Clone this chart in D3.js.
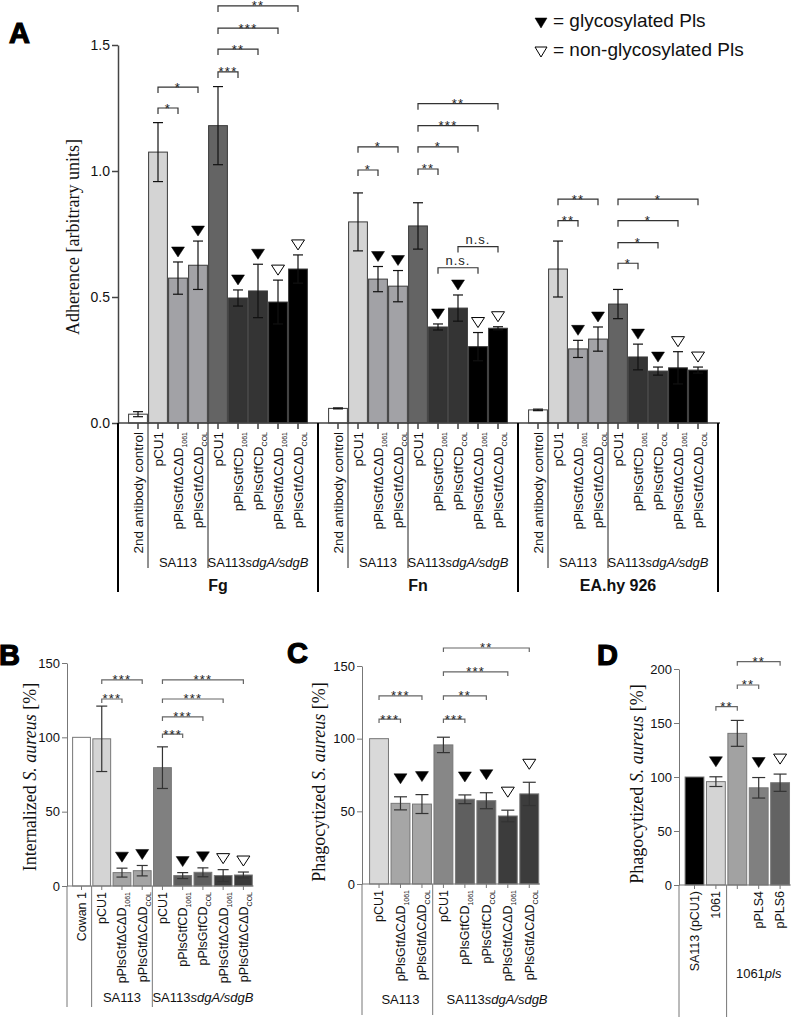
<!DOCTYPE html>
<html lang="en">
<head>
<meta charset="UTF-8">
<title>Pls glycosylation: adherence, internalization, phagocytosis</title>
<script src="https://d3js.org/d3.v7.min.js"></script>
<style>
  body { margin: 0; background: #fff; }
  svg { display: block; font-family: "Liberation Sans", Arial, sans-serif; }
  .ylab { font-family: "Liberation Serif", "Times New Roman", serif; font-size: 18px; }
  .letter { font-weight: bold; font-size: 29px; stroke: #000; stroke-width: 1.2px; }
</style>
</head>
<body>
<svg id="fig" width="792" height="1019"></svg>
<script>
// ---------- data ----------
// panel A: adherence to Fg, Fn and EA.hy 926 cells
const aNames = ["2nd antibody control", "pCU1", "pPlsGtfΔCΔD", "pPlsGtfΔCΔD", "pCU1", "pPlsGtfCD", "pPlsGtfCD", "pPlsGtfΔCΔD", "pPlsGtfΔCΔD"];
const aSubs = ["", "", "1061", "COL", "", "1061", "COL", "1061", "COL"];
const aMarks = ["", "", "g", "g", "", "g", "g", "n", "n"];
const aSubstrates = ["Fg", "Fn", "EA.hy 926"];
const fgMean = [0.035, 1.075, 0.575, 0.626, 1.18, 0.496, 0.524, 0.48, 0.611];
const fgErr  = [0.01, 0.117, 0.064, 0.096, 0.155, 0.032, 0.106, 0.087, 0.056];
const fnMean = [0.058, 0.798, 0.571, 0.543, 0.782, 0.381, 0.456, 0.303, 0.376];
const fnErr  = [0.002, 0.115, 0.05, 0.062, 0.092, 0.012, 0.052, 0.056, 0.006];
const eaMean = [0.052, 0.611, 0.294, 0.333, 0.472, 0.262, 0.206, 0.219, 0.21];
const eaErr  = [0.003, 0.111, 0.034, 0.048, 0.058, 0.051, 0.016, 0.064, 0.012];
// significance brackets: [from, to, height (data units), label]
const fgSig = [[1, 2, 1.25, "*"], [1, 3, 1.333, "*"], [4, 5, 1.393, "***"], [4, 6, 1.484, "**"], [4, 7, 1.567, "***"], [4, 8, 1.655, "**"]];
const fnSig = [[1, 2, 1.004, "*"], [1, 3, 1.096, "*"], [4, 5, 1.008, "**"], [4, 6, 1.096, "*"], [4, 7, 1.18, "***"], [4, 8, 1.267, "**"], [5, 7, 0.616, "n.s."], [6, 8, 0.7, "n.s."]];
const eaSig = [[1, 2, 0.803, "**"], [1, 3, 0.888, "**"], [4, 5, 0.634, "*"], [4, 6, 0.716, "*"], [4, 7, 0.803, "*"], [4, 8, 0.888, "*"]];

// panel B: internalization
const bNames = ["Cowan 1", "pCU1", "pPlsGtfΔCΔD", "pPlsGtfΔCΔD", "pCU1", "pPlsGtfCD", "pPlsGtfCD", "pPlsGtfΔCΔD", "pPlsGtfΔCΔD"];
const bSubs = ["", "", "1061", "COL", "", "1061", "COL", "1061", "COL"];
const bMarks = ["", "", "g", "g", "", "g", "g", "n", "n"];
const bMean = [100, 99, 9, 10.3, 79.6, 7, 9.2, 7, 7.4];
const bErr  = [0, 22, 3, 3.5, 14, 2, 3, 4, 2];
const bSig = [[1, 2, 125.8, "***"], [1, 3, 138.6, "***"], [4, 5, 102.2, "***"], [4, 6, 113.7, "***"], [4, 7, 125.8, "***"], [4, 8, 138.6, "***"]];

// panel C: phagocytosis
const cNames = ["pCU1", "pPlsGtfΔCΔD", "pPlsGtfΔCΔD", "pCU1", "pPlsGtfCD", "pPlsGtfCD", "pPlsGtfΔCΔD", "pPlsGtfΔCΔD"];
const cSubs = ["", "1061", "COL", "", "1061", "COL", "1061", "COL"];
const cMarks = ["", "g", "g", "", "g", "g", "n", "n"];
const cMean = [100, 55.5, 55, 95.7, 58.3, 57.3, 46.8, 62];
const cErr  = [0, 4.5, 6.5, 5.3, 3, 5.5, 4, 8];
const cSig = [[0, 1, 113.5, "***"], [0, 2, 129.4, "***"], [3, 4, 113.5, "***"], [3, 5, 129.4, "**"], [3, 6, 145.9, "***"], [3, 7, 162.4, "**"]];

// panel D: phagocytosis, 1061pls complemented
const dNames = ["SA113 (pCU1)", "1061", "", "pPLS4", "pPLS6"];
const dMarks = ["", "g", "", "g", "n"];
const dMean = [100, 95.7, 140.4, 90, 94.7];
const dErr  = [0, 4.5, 12, 9.5, 8];
const dSig = [[1, 2, 165.1, "**"], [2, 3, 185.2, "**"], [2, 4, 206.8, "**"]];

// ---------- drawing ----------
const svg = d3.select("#fig");

function panel(cfg) {
  const g = svg.append("g");
  const x = d3.scaleBand().domain(d3.range(cfg.n)).range(cfg.xr)
    .paddingInner(cfg.pad).paddingOuter(cfg.pad / 2);
  const y = d3.scaleLinear().domain(cfg.yd).range(cfg.yr);
  const cx = s => x(s) + x.bandwidth() / 2;
  const edge = s => x(s) - (x.step() - x.bandwidth()) / 2;
  const y0 = y(0);

  // bars
  g.selectAll("rect.bar").data(cfg.rows).join("rect")
    .attr("class", "bar")
    .attr("x", d => x(d.slot)).attr("width", x.bandwidth())
    .attr("y", d => y(d.mean)).attr("height", d => y0 - y(d.mean))
    .attr("fill", d => d.color).attr("stroke", cfg.barStroke).attr("stroke-width", 1);

  // error bars
  const eb = g.selectAll("g.err").data(cfg.rows.filter(d => d.err > 0)).join("g")
    .attr("stroke", cfg.errCol).attr("stroke-width", 1.2);
  eb.append("line").attr("x1", d => cx(d.slot)).attr("x2", d => cx(d.slot))
    .attr("y1", d => y(d.mean - d.err)).attr("y2", d => y(d.mean + d.err));
  eb.append("line").attr("x1", d => cx(d.slot) - cfg.cap / 2).attr("x2", d => cx(d.slot) + cfg.cap / 2)
    .attr("y1", d => y(d.mean + d.err)).attr("y2", d => y(d.mean + d.err));
  eb.append("line").attr("x1", d => cx(d.slot) - cfg.cap / 2).attr("x2", d => cx(d.slot) + cfg.cap / 2)
    .attr("y1", d => y(d.mean - d.err)).attr("y2", d => y(d.mean - d.err));

  // glycosylation triangles
  g.selectAll("path.tri").data(cfg.rows.filter(d => d.mark)).join("path")
    .attr("d", d => {
      const b = y(d.mean + d.err) - cfg.triGap, c = cx(d.slot);
      return `M${c - 6.5},${b - 10}H${c + 6.5}L${c},${b}Z`;
    })
    .attr("fill", d => d.mark === "g" ? "#000" : "#fff")
    .attr("stroke", "#000").attr("stroke-width", d => d.mark === "g" ? 0.5 : 1);

  // significance brackets
  cfg.sig.forEach(([a, b, v, lab]) => {
    const yy = y(v);
    g.append("path")
      .attr("d", `M${cx(a)},${yy + cfg.brTick}V${yy}H${cx(b)}V${yy + cfg.brTick}`)
      .attr("fill", "none").attr("stroke", cfg.brCol).attr("stroke-width", 1.2);
    const ns = lab === "n.s.";
    g.append("text").attr("x", (cx(a) + cx(b)) / 2).attr("y", ns ? yy - 3 : yy + 4.5)
      .attr("text-anchor", "middle").attr("font-size", 13)
      .attr("letter-spacing", ns ? 1 : 1.2).attr("fill", "#222").text(lab);
  });

  // y axis
  const ya = g.append("g").attr("transform", `translate(${cfg.ax},0)`)
    .call(d3.axisLeft(y).tickValues(cfg.yt).tickFormat(cfg.fmt).tickSize(cfg.yTick).tickSizeOuter(0).tickPadding(2));
  ya.attr("font-family", null).attr("font-size", cfg.tickFont);
  ya.selectAll(".domain, .tick line").attr("stroke", cfg.axisCol).attr("stroke-width", cfg.axisW);
  ya.selectAll(".tick text").attr("fill", "#111");

  // x axis: ticks at each bar
  const xa = g.append("g").attr("transform", `translate(0,${y0})`)
    .call(d3.axisBottom(x).tickValues(cfg.rows.map(d => d.slot)).tickFormat("").tickSize(cfg.xTick).tickSizeOuter(0));
  xa.select(".domain").remove();
  xa.selectAll(".tick line").attr("stroke", cfg.axisCol).attr("stroke-width", cfg.axisW);
  g.append("line").attr("x1", cfg.ax).attr("x2", cfg.xEnd).attr("y1", y0).attr("y2", y0)
    .attr("stroke", cfg.axisCol).attr("stroke-width", cfg.axisW);

  // rotated category labels
  const lab = g.selectAll("text.xl").data(cfg.rows.filter(d => d.name)).join("text")
    .attr("class", "xl")
    .attr("transform", d => `translate(${cx(d.slot)},${y0 + cfg.labGap}) rotate(-90)`)
    .attr("text-anchor", "end").attr("dy", "0.35em")
    .attr("font-size", cfg.labFont).attr("fill", "#111");
  lab.append("tspan").text(d => d.name);
  lab.filter(d => d.sub).append("tspan").attr("dy", 4).attr("font-size", 7).text(d => d.sub);

  // group separators
  cfg.seps.forEach(s => {
    g.append("line").attr("x1", s.x).attr("x2", s.x).attr("y1", y0).attr("y2", s.y2)
      .attr("stroke", s.col || cfg.axisCol).attr("stroke-width", s.w || 1);
  });

  // group labels
  cfg.groups.forEach(t => {
    const tx = g.append("text").attr("x", t.x).attr("y", t.y).attr("text-anchor", "middle")
      .attr("font-size", t.size || 13).attr("font-weight", t.bold ? "bold" : null).attr("fill", "#111");
    tx.append("tspan").text(t.a);
    if (t.it) tx.append("tspan").attr("font-style", "italic").text(t.it);
  });

  // y label
  const yl = g.append("text").attr("class", "ylab")
    .attr("transform", `translate(${cfg.yl[0]},${cfg.yl[1]}) rotate(-90)`)
    .attr("text-anchor", "middle").attr("dy", "0.35em").attr("fill", "#111");
  cfg.ylab.forEach(([t, it]) => yl.append("tspan").attr("font-style", it ? "italic" : null).text(t));

  return { x, y, cx, edge };
}

// ----- panel A -----
const aColors = ["#ffffff", "#d4d4d4", "#a2a2a6", "#a2a2a6", "#646464", "#343434", "#343434", "#000000", "#000000"];
const aMeans = [fgMean, fnMean, eaMean], aErrs = [fgErr, fnErr, eaErr], aSigs = [fgSig, fnSig, eaSig];
const aRows = aSubstrates.flatMap((s, gi) => aNames.map((nm, i) => ({
  slot: gi * 10 + i, name: nm, sub: aSubs[i], mark: aMarks[i],
  mean: aMeans[gi][i], err: aErrs[gi][i], color: aColors[i]
})));
const aSx = d3.scaleBand().domain(d3.range(29)).range([128, 708]).paddingInner(0.06).paddingOuter(0.03);
const aC = s => aSx(s) + aSx.bandwidth() / 2;
const aE = s => aSx(s) - (aSx.step() - aSx.bandwidth()) / 2;
const aSeps = [], aGroups = [];
aSubstrates.forEach((s, gi) => {
  const o = gi * 10;
  aSeps.push({ x: aE(o) - aSx.step() / 2, y2: 592, col: "#000", w: 2 });
  aSeps.push({ x: aE(o + 1), y2: 568, col: "#222" });
  aSeps.push({ x: aE(o + 4), y2: 568, col: "#222" });
  aGroups.push({ x: aC(o + 2), y: 567, a: "SA113" });
  aGroups.push({ x: aC(o + 6), y: 567, a: "SA113", it: "sdgA/sdgB" });
  aGroups.push({ x: aC(o + 4), y: 591, a: s, bold: true, size: 16 });
});
aSeps.push({ x: aE(28) + aSx.step() * 1.5, y2: 592, col: "#000", w: 2 });

panel({
  n: 29, xr: [128, 708], pad: 0.06, yd: [0, 1.5], yr: [423, 45], ax: 118, xEnd: 720,
  yt: [0, 0.5, 1, 1.5], fmt: d3.format(".1f"), yTick: 6, xTick: 6, tickFont: 14,
  axisCol: "#444", axisW: 1.5, barStroke: "#3a3a3a", errCol: "#111", cap: 10, triGap: 5,
  brTick: 6, brCol: "#333", labGap: 9, labFont: 13.5,
  rows: aRows,
  sig: aSigs.flatMap((sg, gi) => sg.map(([a, b, v, l]) => [a + gi * 10, b + gi * 10, v, l])),
  seps: aSeps, groups: aGroups,
  yl: [73, 237], ylab: [["Adherence [arbitrary units]", false]]
});

// ----- panel B -----
const bColors = ["#ffffff", "#d4d4d4", "#a4a4a4", "#a4a4a4", "#808080", "#5e5e5e", "#5e5e5e", "#3a3a3a", "#3a3a3a"];
const bSx = d3.scaleBand().domain(d3.range(9)).range([71.4, 253.5]).paddingInner(0.12).paddingOuter(0.06);
const bE = s => bSx(s) - (bSx.step() - bSx.bandwidth()) / 2;
const bC = s => bSx(s) + bSx.bandwidth() / 2;
panel({
  n: 9, xr: [71.4, 253.5], pad: 0.12, yd: [0, 150], yr: [886, 663], ax: 67, xEnd: 253.5,
  yt: [0, 50, 100, 150], fmt: d3.format("d"), yTick: 5, xTick: 4, tickFont: 13,
  axisCol: "#777", axisW: 1, barStroke: "#777", errCol: "#333", cap: 11, triGap: 6,
  brTick: 4, brCol: "#666", labGap: 6, labFont: 12.5,
  rows: bNames.map((nm, i) => ({ slot: i, name: nm, sub: bSubs[i], mark: bMarks[i], mean: bMean[i], err: bErr[i], color: bColors[i] })),
  sig: bSig,
  seps: [{ x: 67, y2: 1007 }, { x: bE(1), y2: 1007 }, { x: bE(4), y2: 1007 }],
  groups: [{ x: bC(2), y: 1002, a: "SA113" }, { x: bC(6), y: 1002, a: "SA113", it: "sdgA/sdgB" }],
  yl: [30, 777], ylab: [["Internalized ", false], ["S. aureus", true], [" [%]", false]]
});

// ----- panel C -----
const cColors = ["#d9d9d9", "#a6a6a6", "#a6a6a6", "#878787", "#5f5f5f", "#5f5f5f", "#3c3c3c", "#3c3c3c"];
const cSx = d3.scaleBand().domain(d3.range(8)).range([368.3, 540]).paddingInner(0.12).paddingOuter(0.06);
const cE = s => cSx(s) - (cSx.step() - cSx.bandwidth()) / 2;
const cC = s => cSx(s) + cSx.bandwidth() / 2;
panel({
  n: 8, xr: [368.3, 540], pad: 0.12, yd: [0, 150], yr: [884, 666], ax: 362, xEnd: 540,
  yt: [0, 50, 100, 150], fmt: d3.format("d"), yTick: 5, xTick: 4, tickFont: 13,
  axisCol: "#777", axisW: 1, barStroke: "#777", errCol: "#333", cap: 13, triGap: 13,
  brTick: 4, brCol: "#666", labGap: 6, labFont: 12.5,
  rows: cNames.map((nm, i) => ({ slot: i, name: nm, sub: cSubs[i], mark: cMarks[i], mean: cMean[i], err: cErr[i], color: cColors[i] })),
  sig: cSig,
  seps: [{ x: 362, y2: 1015 }, { x: cE(3), y2: 1015 }],
  groups: [{ x: cC(1), y: 1004, a: "SA113" }, { x: (cC(5) + cC(6)) / 2, y: 1004, a: "SA113", it: "sdgA/sdgB" }],
  yl: [319, 782], ylab: [["Phagocytized ", false], ["S. aureus", true], [" [%]", false]]
});

// ----- panel D -----
const dColors = ["#000000", "#d4d4d4", "#a2a2a2", "#808080", "#636363"];
const dSx = d3.scaleBand().domain(d3.range(5)).range([683.8, 790.8]).paddingInner(0.12).paddingOuter(0.06);
const dE = s => dSx(s) - (dSx.step() - dSx.bandwidth()) / 2;
const dC = s => dSx(s) + dSx.bandwidth() / 2;
panel({
  n: 5, xr: [683.8, 790.8], pad: 0.12, yd: [0, 200], yr: [885, 669], ax: 679, xEnd: 790.8,
  yt: [0, 50, 100, 150, 200], fmt: d3.format("d"), yTick: 5, xTick: 4, tickFont: 13,
  axisCol: "#777", axisW: 1, barStroke: "#777", errCol: "#333", cap: 13, triGap: 10,
  brTick: 4, brCol: "#666", labGap: 6, labFont: 12.5,
  rows: dNames.map((nm, i) => ({ slot: i, name: nm, sub: "", mark: dMarks[i], mean: dMean[i], err: dErr[i], color: dColors[i] })),
  sig: dSig,
  seps: [{ x: 679, y2: 1017 }, { x: dE(2), y2: 1017 }],
  groups: [{ x: dC(3), y: 978, a: "1061", it: "pls" }],
  yl: [637, 784], ylab: [["Phagocytized ", false], ["S. aureus", true], [" [%]", false]]
});

// ----- panel letters -----
[["A", 9, 43], ["B", -1, 665], ["C", 287, 663], ["D", 597, 665]].forEach(([t, lx, ly]) =>
  svg.append("text").attr("class", "letter").attr("x", lx).attr("y", ly).text(t));

// ----- legend -----
const legend = svg.append("g").attr("font-size", 19).attr("fill", "#111");
[["g", 18, 27, "= glycosylated Pls"], ["n", 47, 56, "= non-glycosylated Pls"]].forEach(([m, ty, by, txt]) => {
  legend.append("path").attr("d", `M535,${ty}H547L541,${ty + 10}Z`)
    .attr("fill", m === "g" ? "#000" : "#fff").attr("stroke", "#000").attr("stroke-width", m === "g" ? 0.5 : 1);
  legend.append("text").attr("x", 553).attr("y", by).text(txt);
});
</script>
</body>
</html>
